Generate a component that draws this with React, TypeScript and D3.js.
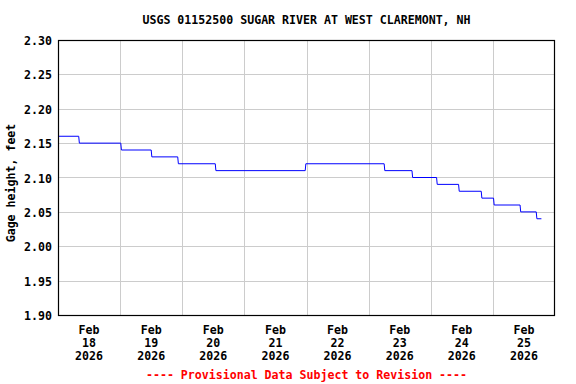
import React from 'react';
import * as d3 from 'd3';

const title = 'USGS 01152500 SUGAR RIVER AT WEST CLAREMONT, NH';
const yLabel = 'Gage height, feet';
const footer = '---- Provisional Data Subject to Revision ----';

const yTicks = [1.9, 1.95, 2.0, 2.05, 2.1, 2.15, 2.2, 2.25, 2.3];
const dayTicks = ['2026-02-18', '2026-02-19', '2026-02-20', '2026-02-21', '2026-02-22', '2026-02-23', '2026-02-24', '2026-02-25'];

// time each new reading level first shows up, and the level
const stepTimes = [
  '2026-02-18T00:00', '2026-02-18T08:15', '2026-02-19T00:30', '2026-02-19T12:15',
  '2026-02-19T22:30', '2026-02-20T13:00', '2026-02-21T23:45', '2026-02-23T06:15',
  '2026-02-23T17:00', '2026-02-24T02:30', '2026-02-24T11:00', '2026-02-24T19:45',
  '2026-02-25T00:30', '2026-02-25T10:45', '2026-02-25T17:00'
];
const stepValues = [2.16, 2.15, 2.14, 2.13, 2.12, 2.11, 2.12, 2.11, 2.10, 2.09, 2.08, 2.07, 2.06, 2.05, 2.04];
const lastTime = '2026-02-25T18:45';

const W = 576;
const H = 384;
const left = 58;
const right = 555;
const top = 40;
const bottom = 315;
const font = '"DejaVu Sans Mono", monospace';
const fs = 11.6;

const parse = (s: string) => new Date(s);

export default function App() {
  const x = d3.scaleTime()
    .domain([parse('2026-02-18T00:00'), parse('2026-02-26T00:00')])
    .range([left, right]);
  const y = d3.scaleLinear().domain([1.9, 2.3]).range([bottom, top]);

  // readings every 15 min: the level holds until the reading before the next change
  const pts: [Date, number][] = [];
  stepTimes.forEach((t, i) => {
    const start = parse(t);
    const end = i < stepTimes.length - 1
      ? new Date(parse(stepTimes[i + 1]).getTime() - 15 * 60 * 1000)
      : parse(lastTime);
    pts.push([start, stepValues[i]]);
    pts.push([end, stepValues[i]]);
  });

  const line = d3.line<[Date, number]>()
    .x(d => x(d[0]))
    .y(d => y(d[1]));

  const days = dayTicks.map(parse);
  const gridDays = days.slice(1);
  const noon = (d: Date) => new Date(d.getTime() + 12 * 3600 * 1000);
  const fmtDay = d3.timeFormat('%d');

  return (
    <svg width={W} height={H} style={{ position: 'absolute', left: 0, top: 0, background: '#fff' }}
      fontFamily={font} fontWeight="bold" fontSize={fs}>
      <rect x={0} y={0} width={W} height={H} fill="#fff" />
      <text x={(left + right) / 2} y={24} textAnchor="middle" fill="#000">{title}</text>

      {yTicks.map(v => (
        <g key={v}>
          {v > 1.9 && v < 2.3 && (
            <line x1={left} x2={right} y1={Math.round(y(v)) + 0.5} y2={Math.round(y(v)) + 0.5} stroke="#cccccc" />
          )}
          <text x={52} y={y(v) + 5} textAnchor="end" fill="#000">{v.toFixed(2)}</text>
        </g>
      ))}

      {gridDays.map(d => (
        <line key={+d} x1={Math.round(x(d)) + 0.5} x2={Math.round(x(d)) + 0.5} y1={top} y2={bottom} stroke="#cccccc" />
      ))}

      <path d={line(pts) ?? ''} fill="none" stroke="#0000ff" strokeWidth={1} />

      <rect x={left + 0.5} y={top + 0.5} width={right - left - 1} height={bottom - top} fill="none" stroke="#000" strokeWidth={1.2} />

      {days.map(d => (
        <text key={+d} x={x(noon(d))} textAnchor="middle" fill="#000">
          <tspan x={x(noon(d))} y={334}>Feb</tspan>
          <tspan x={x(noon(d))} y={347}>{fmtDay(d)}</tspan>
          <tspan x={x(noon(d))} y={360}>2026</tspan>
        </text>
      ))}

      <text transform={`translate(15,${183}) rotate(-90)`} textAnchor="middle" fill="#000">{yLabel}</text>
      <text x={(left + right) / 2} y={379} textAnchor="middle" fill="#ff0000">{footer}</text>
    </svg>
  );
}
